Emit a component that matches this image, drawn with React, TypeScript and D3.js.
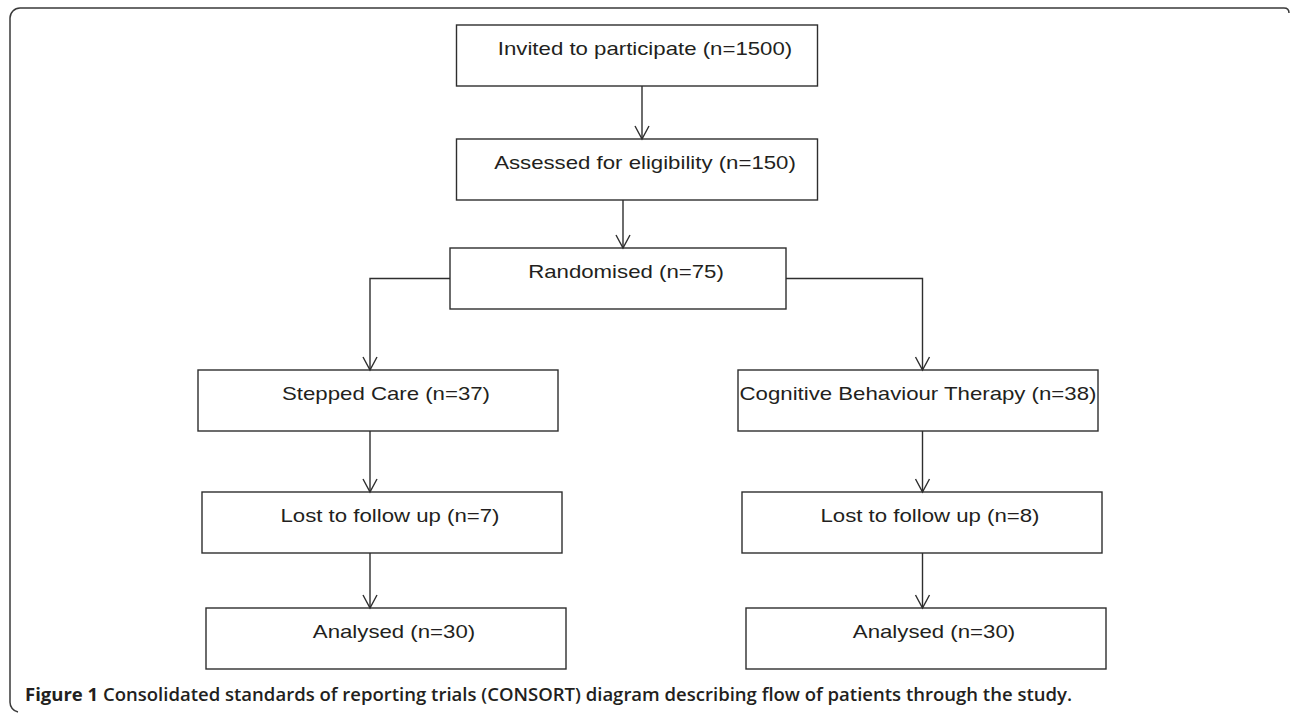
import React, { useRef, useEffect } from "react";
import * as d3 from "d3";

// CONSORT flow: one entry per box
const stageLabels = [
  "Invited to participate",
  "Assessed for eligibility",
  "Randomised",
  "Stepped Care",
  "Cognitive Behaviour Therapy",
  "Lost to follow up",
  "Lost to follow up",
  "Analysed",
  "Analysed",
];
const stageCounts = [1500, 150, 75, 37, 38, 7, 8, 30, 30];
const stageColumn = ["center", "center", "center", "left", "right", "left", "right", "left", "right"];
const stageRow = [0, 1, 2, 3, 3, 4, 4, 5, 5];
const links: [number, number][] = [
  [0, 1],
  [1, 2],
  [2, 3],
  [2, 4],
  [3, 5],
  [4, 6],
  [5, 7],
  [6, 8],
];
const captionLead = "Figure 1";
const captionText =
  "Consolidated standards of reporting trials (CONSORT) diagram describing flow of patients through the study.";

const W = 1290;
const H = 713;

export default function App() {
  const svgRef = useRef<SVGSVGElement>(null);

  useEffect(() => {
    document.body.style.margin = "0";
    const svg = d3.select(svgRef.current);
    svg.selectAll("*").remove();

    const ink = "#2e2e2e";
    const boxH = 61;
    const stretch = 1.2; // box labels are set wide in the original

    // layout scales
    const colX = d3.scaleOrdinal<string, number>().domain(["left", "center", "right"]).range([382, 637, 922]);
    const rowY = d3.scaleOrdinal<number, number>().domain(d3.range(6)).range([25, 139, 248, 370, 492, 608]);
    const spineX = d3.scaleOrdinal<string, number>().domain(["left", "right"]).range([370, 922.5]);
    // side boxes drift a little to the right going down
    const drift = d3.scaleLinear().domain([3, 5]).range([-4, 4]);

    const nodes = stageLabels.map((label, i) => {
      const col = stageColumn[i];
      const row = stageRow[i];
      const w = i === 2 ? 336 : col === "center" ? 361 : 360;
      const cx = colX(col) + (i === 2 ? -19 : col === "center" ? 0 : drift(row));
      const y = rowY(row);
      return { label: `${label} (n=${stageCounts[i]})`, col, row, w, cx, x: cx - w / 2, y };
    });

    // outer frame
    svg
      .append("path")
      .attr("d", `M1289,13 Q1289,8 1284,8 H20 A10,10 0 0 0 10,18 V702 A10,10 0 0 0 18,712`)
      .attr("fill", "none")
      .attr("stroke", "#3a3a3a")
      .attr("stroke-width", 1.5);

    const g = svg.append("g");

    // boxes
    const box = g.selectAll("g.box").data(nodes).join("g").attr("class", "box");
    box
      .append("rect")
      .attr("x", (d) => d.x)
      .attr("y", (d) => d.y)
      .attr("width", (d) => d.w)
      .attr("height", boxH)
      .attr("fill", "#fff")
      .attr("stroke", ink)
      .attr("stroke-width", 1.4);

    box
      .append("text")
      .attr("y", (d) => d.y + 30)
      .attr("text-anchor", "middle")
      .attr("font-family", "'Liberation Sans', Arial, sans-serif")
      .attr("font-size", 18.5)
      .attr("fill", "#231f20")
      .text((d) => d.label)
      .each(function (d) {
        const tw = (this as SVGTextElement).getComputedTextLength() * stretch;
        const dx = Math.max(0, Math.min(8, (d.w - tw) / 2 - 2));
        d3.select(this)
          .attr("x", d.cx + dx)
          .attr("textLength", tw)
          .attr("lengthAdjust", "spacingAndGlyphs");
      });

    // connectors
    const head = (x: number, y: number) => `M${x - 7},${y - 13} L${x},${y} L${x + 7},${y - 13}`;
    const line = g.append("g").attr("fill", "none").attr("stroke", ink).attr("stroke-width", 1.4);

    links.forEach(([s, t]) => {
      const a = nodes[s];
      const b = nodes[t];
      let path = "";
      let tip: [number, number];
      if (a.col === "center" && b.col !== "center") {
        // branch out of the side of the randomisation box
        const my = a.y + boxH / 2;
        const sx = spineX(b.col);
        const fromX = b.col === "left" ? a.x : a.x + a.w;
        path = `M${fromX},${my} H${sx} V${b.y}`;
        tip = [sx, b.y];
      } else {
        const x = a.col === "center" ? b.cx + 5 : spineX(b.col);
        path = `M${x},${a.y + boxH} V${b.y}`;
        tip = [x, b.y];
      }
      line.append("path").attr("d", path);
      line.append("path").attr("d", head(tip[0], tip[1]));
    });

    // caption
    const cap = svg
      .append("text")
      .attr("x", 25)
      .attr("y", 701)
      .attr("font-family", "'Open Sans', 'Noto Sans', sans-serif")
      .attr("font-weight", 700)
      .attr("font-size", 17)
      .attr("fill", "#231f20");
    cap.append("tspan").text(captionLead);
    cap.append("tspan").attr("font-weight", 600).text(" " + captionText);
    const cw = (cap.node() as SVGTextElement).getComputedTextLength();
    cap.attr("font-size", (17 * 1048) / cw);
  }, []);

  return <svg ref={svgRef} width={W} height={H} style={{ display: "block", background: "#fff" }} />;
}
